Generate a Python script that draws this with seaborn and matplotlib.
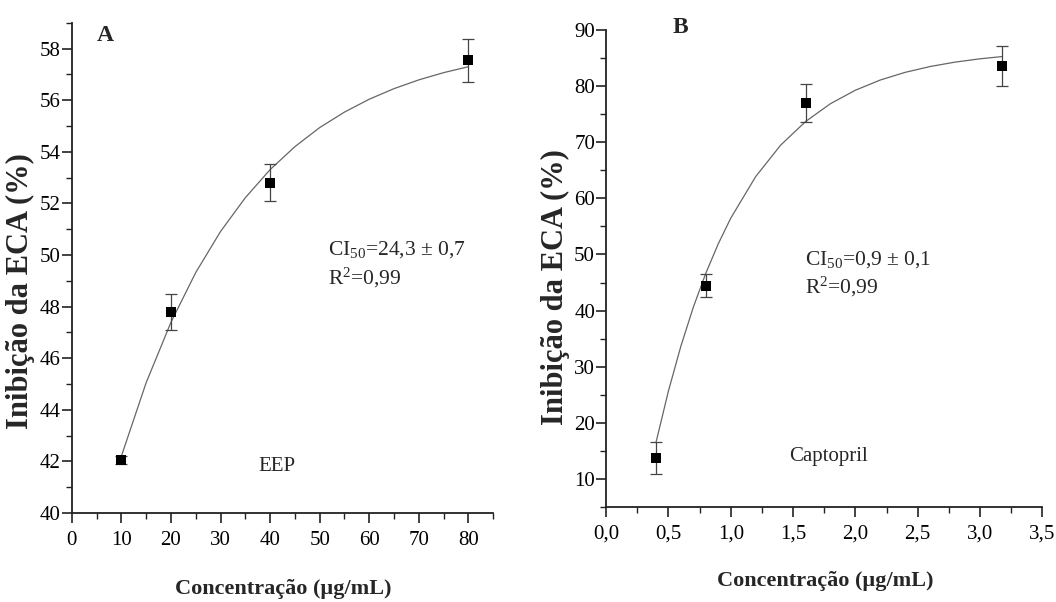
import numpy as np
import pandas as pd
import matplotlib
matplotlib.use("Agg")
import matplotlib.pyplot as plt
import seaborn as sns
from matplotlib.ticker import MultipleLocator, FuncFormatter

# Dados
# Painel A - EEP
eep_conc = [10, 20, 40, 80]
eep_inib = [42.05, 47.8, 52.8, 57.55]
eep_err = [0.15, 0.7, 0.72, 0.83]
# curva ajustada (pontos lidos ao longo da linha)
eep_curva_x = [10, 15, 20, 25, 30, 35, 40, 45, 50, 55, 60, 65, 70, 75, 80]
eep_curva_y = [42.20, 45.05, 47.39, 49.32, 50.91, 52.22, 53.31, 54.20, 54.94,
               55.54, 56.04, 56.45, 56.79, 57.07, 57.30]

# Painel B - Captopril
cap_conc = [0.4, 0.8, 1.6, 3.18]
cap_inib = [13.75, 44.4, 76.95, 83.6]
cap_err = [2.9, 2.05, 3.4, 3.65]
cap_curva_x = [0.4, 0.5, 0.6, 0.7, 0.8, 0.9, 1.0, 1.2, 1.4, 1.6, 1.8, 2.0,
               2.2, 2.4, 2.6, 2.8, 3.0, 3.18]
cap_curva_y = [16.48, 25.67, 33.67, 40.62, 46.66, 51.91, 56.47, 63.88, 69.48,
               73.69, 76.88, 79.28, 81.10, 82.47, 83.51, 84.29, 84.88, 85.29]

sns.set_style("ticks")
plt.rcParams['font.family'] = ['Liberation Serif', 'DejaVu Serif']
plt.rcParams['mathtext.fontset'] = 'custom'
plt.rcParams['mathtext.rm'] = 'Liberation Serif'
plt.rcParams['mathtext.it'] = 'Liberation Serif:italic'
plt.rcParams['mathtext.bf'] = 'Liberation Serif:bold'

fig = plt.figure(figsize=(10.56, 6.02), dpi=100)
axA = fig.add_axes([0.068, 0.148, 0.399, 0.814])
axB = fig.add_axes([0.574, 0.158, 0.413, 0.792])


def desenhar(ax, cx, cy, x, y, err):
    curva = pd.DataFrame({'x': cx, 'y': cy})
    pts = pd.DataFrame({'x': x, 'y': y})
    sns.lineplot(data=curva, x='x', y='y', ax=ax, color='#666666', linewidth=0.9)
    ax.errorbar(x, y, yerr=err, fmt='none', ecolor='#444444', elinewidth=0.9,
                capsize=4, capthick=0.9, zorder=3)
    sns.scatterplot(data=pts, x='x', y='y', ax=ax, marker='s', color='black',
                    s=45, edgecolor='black', linewidth=0, zorder=4)
    for s in ['top', 'right']:
        ax.spines[s].set_visible(False)
    for s in ['left', 'bottom']:
        ax.spines[s].set_linewidth(1.3)
        ax.spines[s].set_color('#222222')
    ax.tick_params(which='major', direction='out', length=7, width=1.2,
                   labelsize=15, colors='#222222', labelcolor='black')
    ax.tick_params(axis='x', which='major', pad=6)
    ax.tick_params(axis='y', which='major', pad=1)
    ax.tick_params(which='minor', direction='out', length=4.3, width=1.0,
                   colors='#222222')
    ax.set_ylabel('Inibição da ECA (%)', fontsize=22, fontweight='bold')
    ax.set_xlabel('Concentração (µg/mL)', fontsize=16, fontweight='bold')
    ax.xaxis.set_label_coords(0.503, -0.135)


desenhar(axA, eep_curva_x, eep_curva_y, eep_conc, eep_inib, eep_err)
axA.set_xlim(0, 85)
axA.set_ylim(40, 59)
axA.xaxis.set_major_locator(MultipleLocator(10))
axA.xaxis.set_minor_locator(MultipleLocator(5))
axA.yaxis.set_major_locator(MultipleLocator(2))
axA.yaxis.set_minor_locator(MultipleLocator(1))
axA.set_xticks(range(0, 81, 10))
axA.yaxis.set_label_coords(-0.088, 0.453)
axA.text(0.059, 0.996, 'A', transform=axA.transAxes, fontsize=17,
         fontweight='bold', va='top')
axA.text(0.608, 0.537, r'CI$_{50}$=24,3 ± 0,7', transform=axA.transAxes,
         fontsize=15.5, va='center')
axA.text(0.608, 0.48, r'R$^{2}$=0,99', transform=axA.transAxes, fontsize=15.5,
         va='center')
axA.text(0.487, 0.094, 'EEP', transform=axA.transAxes, fontsize=15,
         ha='center', va='center')

desenhar(axB, cap_curva_x, cap_curva_y, cap_conc, cap_inib, cap_err)
axB.set_xlim(0, 3.5)
axB.set_ylim(5, 90)
axB.xaxis.set_major_locator(MultipleLocator(0.5))
axB.xaxis.set_minor_locator(MultipleLocator(0.25))
axB.yaxis.set_major_locator(MultipleLocator(10))
axB.yaxis.set_minor_locator(MultipleLocator(5))
axB.set_yticks(range(10, 91, 10))
axB.xaxis.set_major_formatter(FuncFormatter(lambda v, p: f'{v:.1f}'.replace('.', ',')))
axB.yaxis.set_label_coords(-0.083, 0.461)
axB.text(0.152, 1.028, 'B', transform=axB.transAxes, fontsize=17,
         fontweight='bold', va='top')
axB.text(0.455, 0.518, r'CI$_{50}$=0,9 ± 0,1', transform=axB.transAxes,
         fontsize=15.5, va='center')
axB.text(0.455, 0.462, r'R$^{2}$=0,99', transform=axB.transAxes, fontsize=15.5,
         va='center')
axB.text(0.51, 0.105, 'Captopril', transform=axB.transAxes, fontsize=15,
         ha='center', va='center')

fig.savefig('out.png', dpi=100)
